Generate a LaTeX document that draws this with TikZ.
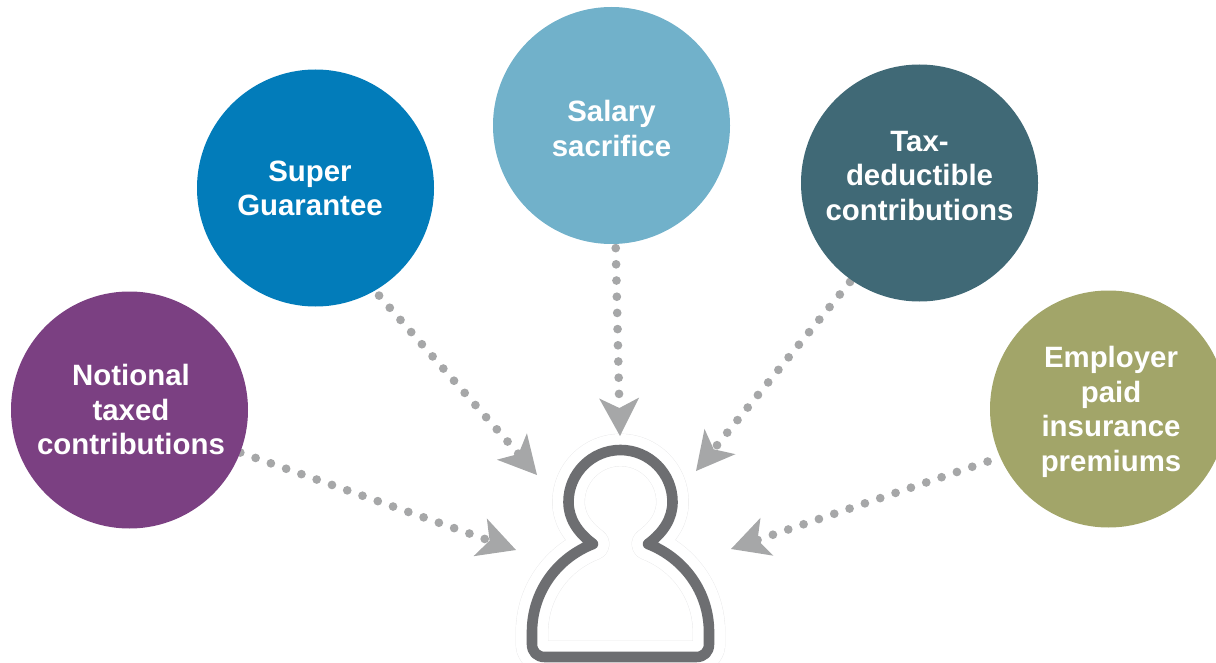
\documentclass[tikz,border=0pt]{standalone}
\usepackage{fontspec}
\setmainfont{Liberation Sans}
\usetikzlibrary{arrows.meta,backgrounds}
\definecolor{notionalcol}{HTML}{7B4082}
\definecolor{supercol}{HTML}{027CBA}
\definecolor{salarycol}{HTML}{71B1CA}
\definecolor{taxcol}{HTML}{406976}
\definecolor{insurancecol}{HTML}{A2A569}
\definecolor{dotcol}{HTML}{A6A7A8}
\definecolor{personcol}{HTML}{6D6E71}
\definecolor{halocol}{HTML}{E8E8E9}
\tikzset{
    bubble/.style={circle, minimum size=237pt, inner sep=0pt},
    bubbletext/.style={text=white, align=center, inner sep=0pt, font=\fontsize{29.4}{34.5}\selectfont\bfseries},
    dotline/.style={dotcol, line width=8.7pt, line cap=round, dash pattern=on 0pt off 16.2pt,
        -{Stealth[length=38pt,width=40pt,inset=10pt,line width=0pt]}},
}
\def\personpath{(593,544) .. controls (577,532) and (568.5,518) .. (568.5,502)
    .. controls (568.5,473.3) and (591.8,450) .. (620.5,450)
    .. controls (649.2,450) and (672.5,473.3) .. (672.5,502)
    .. controls (672.5,518) and (664,532) .. (648,544)
    .. controls (684,558) and (709,592) .. (709,632)
    -- (709,644) .. controls (709,652) and (704,657) .. (696,657)
    -- (545,657) .. controls (537,657) and (532,652) .. (532,644)
    -- (532,632) .. controls (532,592) and (557,558) .. (593,544) -- cycle}
\begin{document}
\begin{tikzpicture}[x=1pt,y=-1pt]
    \clip (0,0) rectangle (1216,663);
    % circles
    \node[bubble, fill=notionalcol] (notional) at (129.5,410) {};
    \node[bubble, fill=supercol] (super) at (315.5,188) {};
    \node[bubble, fill=salarycol] (salary) at (611.5,125.5) {};
    \node[bubble, fill=taxcol] (tax) at (919.5,183) {};
    \node[bubble, fill=insurancecol] (insurance) at (1108.5,409) {};
    % texts
    \node[bubbletext] (notionaltext) at (131,409.5) {Notional\\taxed\\contributions};
    \node[bubbletext] (supertext) at (310,188.5) {Super\\Guarantee};
    \node[bubbletext] (salarytext) at (611.5,128.5) {Salary\\sacrifice};
    \node[bubbletext] (taxtext) at (919.5,176) {Tax-\\deductible\\contributions};
    \node[bubbletext] (insurancetext) at (1111,412) {Employer\\paid\\insurance\\premiums};
    % arrow ends
    \coordinate (tipnotional) at (516,550);
    \coordinate (tipsuper) at (537,475);
    \coordinate (tipsalary) at (620,436);
    \coordinate (tiptax) at (696,471);
    \coordinate (tipinsurance) at (731,549);
    \begin{pgfonlayer}{background}
        % person
        \draw[halocol, line width=32.8pt, line join=round] \personpath;
        \draw[white, line width=32pt, line join=round] \personpath;
        \draw[personcol, line width=10.6pt, line join=round] \personpath;
        \draw[dotline] (notional.-21.4) -- (tipnotional);
        \draw[dotline, shorten <=6.4pt] (super.-60.6) -- (tipsuper);
        \draw[dotline, shorten <=4pt] (salary.-88.3) -- (tipsalary);
        \draw[dotline, shorten <=2.2pt] (tax.-125.7) -- (tiptax);
        \draw[dotline, shorten <=13.2pt] (insurance.204.3) -- (tipinsurance);
    \end{pgfonlayer}
\end{tikzpicture}
\end{document}
